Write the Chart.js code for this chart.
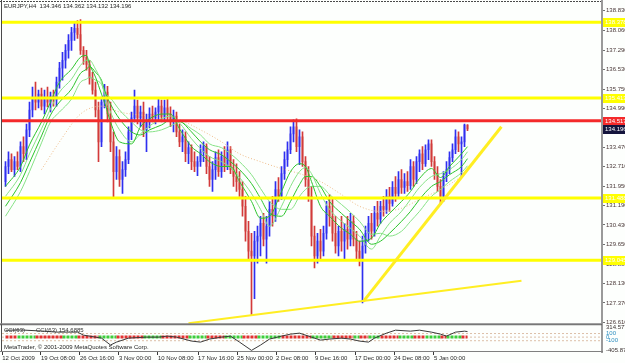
<!DOCTYPE html>
<html><head><meta charset="utf-8">
<script src="https://cdn.jsdelivr.net/npm/chart.js@4.4.1/dist/chart.umd.min.js"></script>
<style>html,body{margin:0;padding:0;background:#fdfffd;overflow:hidden}canvas{display:block}</style>
</head><body>
<canvas id="c" width="625" height="363"></canvas>
<script>
// ---------- data ----------
const chartTitle = 'EURJPY,H4  134.346 134.362 134.132 134.196';
const copyrightText = 'MetaTrader, \u00A9 2001-2009 MetaQuotes Software Corp.';
const cciName = 'CCI(63)';
const cciValueText = 'CCI(63) 154.6885';

const opens = [132.13,132.72,132.99,132.60,132.91,132.72,133.50,133.22,134.16,134.94,
135.45,135.25,135.56,135.09,135.45,135.25,135.48,135.33,136.03,136.58,
136.89,137.28,137.67,137.98,138.14,137.90,137.28,137.01,136.73,136.19,
135.72,134.94,133.69,135.25,135.64,134.78,133.69,132.52,133.11,132.21,
132.60,132.99,134.08,134.63,135.09,134.63,134.86,134.16,134.47,134.78,
134.63,134.86,135.09,134.67,135.02,134.78,134.47,134.70,134.08,133.69,
133.89,133.22,133.46,132.91,132.72,132.91,133.30,133.50,132.72,132.21,
132.60,133.07,132.52,133.11,132.72,133.38,132.60,132.33,132.13,131.82,
131.16,130.18,129.40,129.21,129.79,129.99,130.49,129.87,130.38,131.04,
130.77,131.82,131.55,132.44,132.99,133.38,134.00,134.28,133.50,133.89,
132.91,132.21,131.55,129.99,129.21,129.79,129.40,130.10,131.16,130.77,
130.10,129.60,130.18,129.79,130.26,129.87,130.57,129.87,129.40,129.09,
129.60,130.10,130.49,130.18,130.88,130.65,131.16,131.04,131.55,131.27,
131.90,131.66,132.21,131.90,132.13,131.97,132.72,132.21,132.91,133.22,
132.83,133.38,133.61,132.91,132.44,131.94,131.55,132.33,132.60,133.07,
133.38,133.89,133.61,133.69,134.346];
const highs = [132.91,133.30,133.22,133.11,133.30,133.69,133.89,134.39,135.25,135.84,
136.03,135.72,135.80,135.72,135.84,135.64,135.72,136.23,136.81,137.20,
137.51,137.90,138.18,138.37,138.45,138.49,137.43,137.28,136.89,136.42,
136.03,135.25,135.45,135.95,135.87,135.25,134.08,133.50,133.38,132.91,
133.30,134.28,134.86,135.72,135.33,135.09,135.25,134.78,135.02,135.09,
135.02,135.37,135.33,135.33,135.41,135.06,134.94,134.86,134.39,134.16,
134.08,133.69,133.57,133.30,133.11,133.57,133.69,133.61,133.11,132.91,
133.30,133.38,133.30,133.50,133.69,133.50,132.99,132.83,132.52,132.13,
131.55,130.57,130.10,130.18,130.38,130.77,130.88,130.77,131.35,131.55,
132.13,132.29,132.72,133.30,133.69,134.28,134.55,134.59,134.16,134.08,
133.11,132.72,131.94,130.38,130.10,130.26,130.38,131.35,131.62,131.43,
130.77,130.38,130.77,130.49,130.77,130.88,130.80,130.18,129.79,129.99,
130.38,130.77,130.88,131.16,131.35,131.35,131.55,131.82,131.90,132.13,
132.33,132.52,132.60,132.44,132.52,132.99,132.91,133.11,133.38,133.50,
133.57,133.77,133.77,133.11,132.72,132.21,132.52,132.91,133.30,133.61,
134.16,134.08,133.89,134.39,134.362];
const lows = [131.94,132.44,132.52,132.33,132.60,132.52,132.91,132.99,133.89,134.67,
134.94,135.02,134.94,134.78,135.06,134.86,135.09,135.09,135.80,136.11,
136.58,136.97,137.28,137.67,137.75,137.12,136.73,136.50,135.95,135.56,
134.67,132.91,133.50,135.02,134.47,133.30,131.51,132.21,131.94,131.66,
132.33,132.83,133.77,134.47,134.39,134.28,133.89,133.30,134.24,134.47,
134.39,134.55,134.47,134.47,134.55,134.28,134.08,133.89,133.50,133.30,
132.91,132.83,132.60,132.52,132.36,132.72,132.91,132.44,131.94,131.74,
132.21,132.33,132.29,132.52,132.60,132.44,131.94,131.74,131.55,130.77,
129.79,129.09,126.87,127.53,128.93,129.21,129.60,128.93,129.99,130.38,
130.57,131.35,131.43,132.21,132.72,133.22,133.69,133.30,132.79,132.72,
131.94,131.35,129.60,128.74,128.93,129.09,129.21,129.87,130.38,129.79,
129.32,129.21,129.40,129.09,129.48,129.60,129.60,129.09,128.82,127.37,
129.32,129.79,129.87,129.99,130.38,130.49,130.77,130.88,130.96,131.16,
131.35,131.55,131.66,131.66,131.74,131.82,131.94,132.05,132.52,132.60,
132.72,132.99,132.72,132.21,131.74,131.23,131.35,132.13,132.44,132.91,
133.22,133.30,132.33,133.50,134.132];
const closes = [132.72,132.99,132.60,132.91,132.72,133.50,133.22,134.16,134.94,135.45,
135.25,135.56,135.09,135.45,135.25,135.48,135.33,136.03,136.58,136.89,
137.28,137.67,137.98,138.14,137.90,137.28,137.01,136.73,136.19,135.72,
134.94,133.69,135.25,135.64,134.78,133.69,132.52,133.11,132.21,132.60,
132.99,134.08,134.63,135.09,134.63,134.86,134.16,134.47,134.78,134.63,
134.86,135.09,134.67,135.02,134.78,134.47,134.70,134.08,133.69,133.89,
133.22,133.46,132.91,132.72,132.91,133.30,133.50,132.72,132.21,132.60,
133.07,132.52,133.11,132.72,133.38,132.60,132.33,132.13,131.82,131.16,
130.18,129.40,129.21,129.79,129.99,130.49,129.87,130.38,131.04,130.77,
131.82,131.55,132.44,132.99,133.38,134.00,134.28,133.50,133.89,132.91,
132.21,131.55,129.99,129.21,129.79,129.40,130.10,131.16,130.77,130.10,
129.60,130.18,129.79,130.26,129.87,130.57,129.87,129.40,129.09,129.60,
130.10,130.49,130.18,130.88,130.65,131.16,131.04,131.55,131.27,131.90,
131.66,132.21,131.90,132.13,131.97,132.72,132.21,132.91,133.22,132.83,
133.38,133.61,132.91,132.44,131.94,131.55,132.33,132.60,133.07,133.38,
133.89,133.61,133.69,134.35,134.196];

// moving-average ribbon (at these bar positions)
const maIdx = [0,5,8,12,15,18,22,25,27,28,30,32,33,35,38,42,45,48,52,55,58,62,65,68,72,75,78,82,85,88,92,95,98,100,102,105,108,112,115,118,122,125,128,132,135,138,142,145,148,152,154];
const ma1 = [131.94,132.72,133.57,134.47,135.25,136.03,136.54,137.01,137.08,136.73,136.23,135.56,135.25,134.47,133.69,133.61,134.28,134.59,134.78,134.78,134.20,133.50,133.22,132.91,132.72,132.72,132.13,131.35,130.69,130.77,131.74,132.52,132.83,132.72,132.13,131.16,130.77,130.30,130.06,129.79,129.91,130.49,130.88,131.35,131.74,132.25,132.64,132.29,132.72,133.22,133.50];
const ma2 = [131.55,132.40,133.22,134.20,134.98,135.64,136.15,136.69,136.89,136.89,136.54,136.03,135.56,134.86,134.16,133.69,134.00,134.31,134.59,134.70,134.43,133.81,133.42,133.11,132.91,132.68,132.29,131.66,131.04,130.38,131.16,131.94,132.52,132.68,132.44,131.66,131.04,130.57,130.30,129.99,129.48,129.99,130.49,130.96,131.43,131.90,132.33,132.44,132.60,132.99,133.30];
const ma3 = [131.16,132.09,132.87,133.92,134.74,135.25,135.76,136.38,136.54,136.65,136.42,136.11,135.72,135.17,134.59,134.08,133.96,134.16,134.35,134.55,134.51,134.08,133.69,133.38,133.18,132.91,132.60,132.05,131.47,130.88,130.77,131.35,132.01,132.33,132.33,131.94,131.35,130.88,130.57,130.26,129.67,129.79,130.10,130.57,130.96,131.43,131.94,132.13,132.40,132.72,133.03];
const ma4 = [130.77,131.74,132.52,133.65,134.47,134.86,135.37,136.03,136.15,136.23,136.11,135.95,135.64,135.41,134.94,134.47,134.16,134.08,134.16,134.31,134.47,134.20,133.96,133.61,133.46,133.22,132.91,132.40,131.86,131.35,131.04,131.04,131.55,131.82,131.94,131.94,131.62,131.23,130.92,130.57,130.06,130.10,129.99,130.18,130.57,130.96,131.55,131.82,132.13,132.48,132.75];
const slowIdx = [12,18,25,32,38,45,52,58,65,72,78,85,92,98,105,112,118,125,132,138,145,152,154];
const slowMA = [132.60,133.69,134.78,135.09,134.86,134.74,134.67,134.55,134.16,133.69,133.22,132.91,132.64,132.44,132.13,131.62,131.16,130.96,131.08,131.43,131.82,132.33,132.52];

// horizontal levels and trend lines
const yellowLevels = [138.378, 135.413, 131.488, 129.045];
const redLevels = [134.517];
const lastPrice = 134.196;
const trendLowX = [61, 172];   const trendLowY = [126.57, 128.24];
const trendUpX = [119.3, 165.3]; const trendUpY = [127.43, 134.28];

// CCI sub-window
const cciIdx = [0,5,12,17,24,26,32,35,37,41,47,51,54,57,62,65,68,72,75,78,82,85,88,92,95,98,102,105,108,112,115,118,121,123,127,130,135,138,142,145,147,150,153,154];
const cciVal = [190,200,170,140,140,55,-28,-220,-139,-28,0,0,28,0,-110,-139,-55,0,28,-139,-370,-222,-55,28,83,111,0,-83,-55,-28,-55,-111,-139,-28,111,194,166,194,139,83,28,139,166,154.69];
const cciLevels = [100, 0, -100];
const cciMax = 314.577, cciMin = -405.875;
const bandStart = [0,4,10,19,24,31,37,46,52,61,67,73,79,84,92,102,109,116,118,121,125,131,136,140,145,147,152];
const bandKey = 'rgrgrgrgrgrgrgrgrgrgrgrgrgr';

// axis ticks
const priceTicks = [126.610,127.370,128.130,128.890,129.650,130.430,131.190,131.950,132.710,133.470,134.990,135.750,136.530,137.290,138.060,138.830];
const xTickIdx = [-1.1,11.8,24.8,37.8,50.8,64.2,77.2,90.2,103.2,116.5,129.5,142.8];
const xTickLabels = ['12 Oct 2009','19 Oct 08:00','26 Oct 16:00','3 Nov 00:00','10 Nov 08:00','17 Nov 16:00','25 Nov 00:00','2 Dec 08:00','9 Dec 16:00','17 Dec 00:00','24 Dec 08:00','5 Jan 00:00'];

// ---------- styling ----------
const FONT = "'Liberation Sans',Arial,sans-serif";
const FS = 6;
const upBody = '#a6a6f6', dnBody = '#e2aaa2', upWick = '#2f2ff0', dnWick = '#d33a3a';
const isUp = i => closes[i] >= opens[i];
const pts = (xs, ys) => xs.map((x, k) => ({x, y: ys[k]}));
const bandColorAt = i => { let k = 0; while (k + 1 < bandStart.length && bandStart[k + 1] <= i) k++; return bandKey[k] === 'r' ? '#e23232' : '#3ccf3c'; };
const X0 = -1.1667, X1 = 198.8333;

const lineDs = (data, color, order, extra) => Object.assign({type: 'line', data, borderColor: color, borderWidth: 1, pointRadius: 0, yAxisID: 'y', order, tension: 0}, extra || {});

const datasets = [
  {type: 'bar', yAxisID: 'y', order: 30, grouped: false, barThickness: 2, minBarLength: 1, borderWidth: 0,
   data: opens.map((o, i) => ({x: i, y: [o, closes[i]]})),
   backgroundColor: c => isUp(c.dataIndex) ? upBody : dnBody},
  {type: 'bar', yAxisID: 'y', order: 29, grouped: false, barThickness: 1, borderWidth: 0,
   data: lows.map((l, i) => ({x: i, y: [l, highs[i]]})),
   backgroundColor: c => isUp(c.dataIndex) ? upWick : dnWick},
  lineDs(pts(slowIdx, slowMA), '#eebb88', 20, {borderDash: [1, 2], cubicInterpolationMode: 'monotone'}),
  lineDs(pts(maIdx, ma4), '#86e286', 19, {cubicInterpolationMode: 'monotone'}),
  lineDs(pts(maIdx, ma3), '#2cc42c', 18, {cubicInterpolationMode: 'monotone'}),
  lineDs(pts(maIdx, ma2), '#86e286', 17, {cubicInterpolationMode: 'monotone'}),
  lineDs(pts(maIdx, ma1), '#2cc42c', 16, {cubicInterpolationMode: 'monotone'}),
];
yellowLevels.forEach(v => datasets.push(lineDs(pts([X0, X1], [v, v]), '#ffff00', 5, {borderWidth: 3})));
redLevels.forEach(v => datasets.push(lineDs(pts([X0, X1], [v, v]), '#f42a2a', 4, {borderWidth: 3})));
datasets.push(lineDs(pts(trendLowX, trendLowY), '#ffee22', 3, {borderWidth: 2}));
datasets.push(lineDs(pts(trendUpX, trendUpY), '#ffee22', 3, {borderWidth: 3}));
// CCI window
cciLevels.forEach(v => datasets.push(lineDs(pts([X0, X1], [v, v]), '#dcbfa8', 12, {yAxisID: 'yc', borderDash: [2, 2]})));
datasets.push(lineDs(opens.map((_, i) => ({x: i, y: 0})), '#3ccf3c', 11, {yAxisID: 'yc', borderWidth: 3, borderDash: [3, 1],
  segment: {borderColor: c => bandColorAt(c.p0DataIndex)}}));
datasets.push(lineDs(pts(cciIdx, cciVal), '#3a3a3a', 10, {yAxisID: 'yc'}));

const overlay = {
  id: 'overlay',
  afterDraw(chart) {
    const {ctx, chartArea: a, scales} = chart;
    const y = scales.y;
    ctx.save();
    // frame
    ctx.strokeStyle = '#4a4a4a'; ctx.lineWidth = 1;
    ctx.setLineDash([2, 1]);
    ctx.beginPath(); ctx.moveTo(0, 1.5); ctx.lineTo(a.right, 1.5); ctx.stroke();
    ctx.setLineDash([]);
    ctx.beginPath(); ctx.moveTo(1.5, 0); ctx.lineTo(1.5, a.bottom); ctx.stroke();
    ctx.fillStyle = '#9a9a9a'; ctx.fillRect(a.right - 1, 0, 2, a.bottom + 1);
    ctx.fillStyle = '#8a8a8a'; ctx.fillRect(0, y.bottom - 1, a.right, 1);
    ctx.fillStyle = '#5a5a5a'; ctx.fillRect(0, y.bottom, a.right, 1);
    ctx.fillStyle = '#808080'; ctx.fillRect(0, a.bottom - 1, a.right + 1, 1);
    // texts
    ctx.textBaseline = 'middle'; ctx.textAlign = 'left';
    ctx.font = FS + 'px ' + FONT; ctx.fillStyle = '#1e1e1e';
    ctx.fillText(chartTitle, 4, 6.5);
    ctx.fillText(copyrightText, 4, 347.5);
    ctx.fillStyle = '#333';
    ctx.fillText(cciName, 4, 330);
    ctx.fillText(cciValueText, 36, 330);
    // CCI right labels
    const yc = scales.yc;
    ctx.fillStyle = '#3a3030';
    ctx.fillText(cciMax.toFixed(3), 606, yc.getPixelForValue(cciMax) + 2);
    ctx.fillText(cciMin.toFixed(3), 606, yc.getPixelForValue(cciMin) - 1);
    ctx.fillStyle = '#2f8fc0';
    cciLevels.forEach(v => ctx.fillText(String(v), 606, yc.getPixelForValue(v)));
    // highlighted price labels
    const tag = (v, bg, fg) => {
      const py = Math.round(y.getPixelForValue(v));
      ctx.fillStyle = bg; ctx.fillRect(603, py - 4, 22, 9);
      ctx.fillStyle = fg; ctx.fillText(v.toFixed(3), 605, py + 0.5);
    };
    yellowLevels.forEach(v => tag(v, '#ffff00', '#ffffff'));
    redLevels.forEach(v => tag(v, '#f42a2a', '#ffffff'));
    tag(lastPrice, '#14143c', '#ffffff');
    ctx.restore();
  }
};

new Chart(document.getElementById('c'), {
  type: 'bar',
  data: {datasets},
  options: {
    responsive: false, animation: false, devicePixelRatio: 1,
    layout: {padding: {left: 2, top: 2, right: 0, bottom: 0}},
    plugins: {legend: {display: false}, tooltip: {enabled: false}},
    scales: {
      x: {
        type: 'linear', min: X0, max: X1, offset: false,
        grid: {display: true, drawOnChartArea: false, tickLength: 3, color: '#3a3a3a', offset: false},
        border: {display: false},
        afterBuildTicks: s => { s.ticks = xTickIdx.map(v => ({value: v})); },
        ticks: {autoSkip: false, maxRotation: 0, minRotation: 0, align: 'start', padding: 0,
                font: {family: FONT, size: FS}, color: '#2a2a2a', callback: (v, k) => xTickLabels[k]},
        afterFit: s => { s.height = 11; }
      },
      y: {
        type: 'linear', position: 'right', stack: 'panes', stackWeight: 322, weight: 1,
        min: 126.532, max: 139.075, beginAtZero: false,
        grid: {display: true, drawOnChartArea: false, tickLength: 3, color: '#707070'},
        border: {display: false},
        afterBuildTicks: s => { s.ticks = priceTicks.map(v => ({value: v})); },
        ticks: {autoSkip: false, padding: 1, font: {family: FONT, size: FS}, color: '#4a3838', callback: v => v.toFixed(3)},
        afterFit: s => { s.width = 23; }
      },
      yc: {
        type: 'linear', position: 'right', stack: 'panes', stackWeight: 28, weight: 2,
        min: -415, max: 360, beginAtZero: false,
        grid: {display: false}, border: {display: false},
        ticks: {display: false},
        afterFit: s => { s.width = 23; }
      }
    }
  },
  plugins: [overlay]
});
</script>
</body></html>
